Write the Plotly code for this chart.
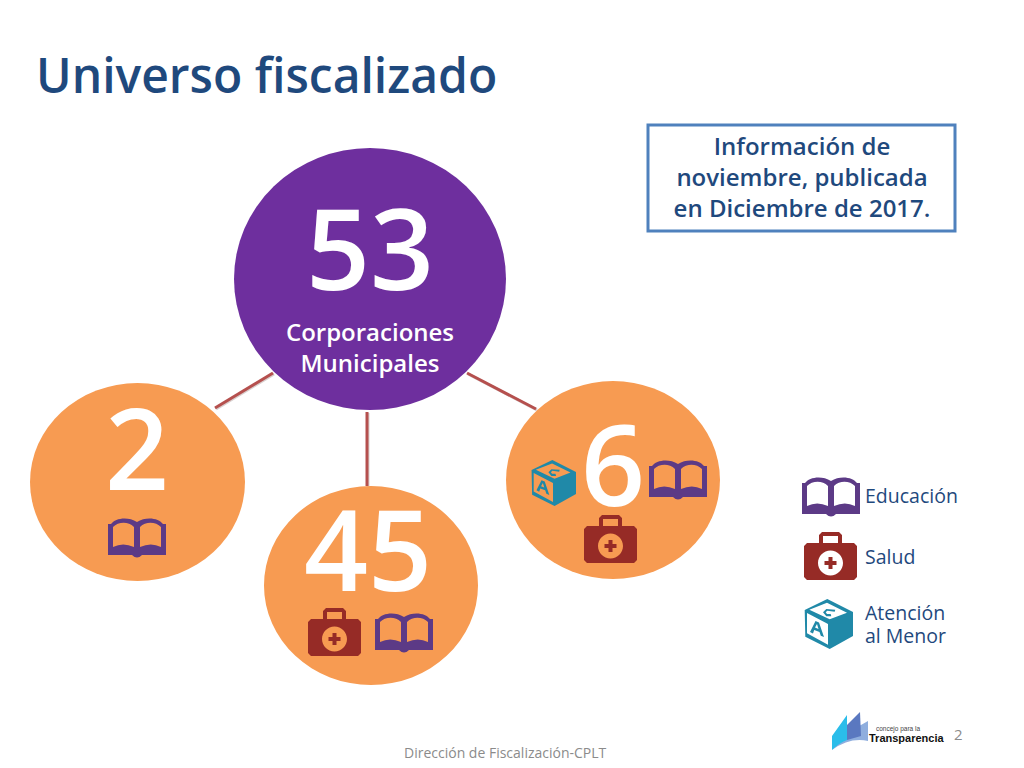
import plotly.graph_objects as go

NAVY = "#1F497D"
ORANGE = "#F79B52"
PURPLE = "#6E2F9E"
BOOK = "#5C3A86"
KIT = "#962B26"
CUBE = "#2089A8"
FONT = "Open Sans"

# Bubbles: centre x, centre y, radius x, radius y
bubble_cx = [370, 137.5, 371, 613]
bubble_cy = [279, 482, 585.5, 480]
bubble_rx = [136, 107.5, 107, 107]
bubble_ry = [131, 99, 99.5, 99]
bubble_col = [PURPLE, ORANGE, ORANGE, ORANGE]

# Connector lines from the centre bubble
link_x0 = [273, 367, 467]
link_y0 = [373, 412, 373]
link_x1 = [215, 367, 536]
link_y1 = [408, 486, 409]

# Big numbers
num_labels = ["53", "2", "45", "6"]
num_x = [370, 137, 368, 613]
num_y = [262, 462, 563, 478]
num_size = [112, 112, 112, 112]

# Icon placement: left, top, scale
book_pos = [(802, 477, 1.0), (108, 518, 1.0), (375, 613, 1.0), (649, 460, 1.0)]
kit_pos = [(804, 532, 1.0), (308, 608, 1.0), (584, 515, 1.0)]
cube_pos = [(803, 599, 1.0), (530, 460, 0.92)]

# Other text
legend_labels = ["Educación", "Salud", "Atención", "al Menor"]
legend_y = [498, 559, 615, 638]
note_lines = ["Información de", "noviembre, publicada", "en Diciembre de 2017."]
note_y = [149, 180, 211]
sub_lines = ["Corporaciones", "Municipales"]
sub_y = [335, 366]


def poly(pts, x, y, s):
    out = ""
    for i, (px, py) in enumerate(pts):
        out += ("M" if i == 0 else "L") + f"{x + px * s:.2f},{y + py * s:.2f} "
    return out + "Z "


def circle(cx, cy, r):
    k = r * 0.5523
    return (f"M{cx - r:.2f},{cy:.2f} C{cx - r:.2f},{cy - k:.2f} {cx - k:.2f},{cy - r:.2f} {cx:.2f},{cy - r:.2f} "
            f"C{cx + k:.2f},{cy - r:.2f} {cx + r:.2f},{cy - k:.2f} {cx + r:.2f},{cy:.2f} "
            f"C{cx + r:.2f},{cy + k:.2f} {cx + k:.2f},{cy + r:.2f} {cx:.2f},{cy + r:.2f} "
            f"C{cx - k:.2f},{cy + r:.2f} {cx - r:.2f},{cy + k:.2f} {cx - r:.2f},{cy:.2f} Z ")


def icon_shape(path, color):
    return dict(type="path", path=path, fillcolor=color, line=dict(width=0), layer="above",
                xref="x", yref="y", fillrule="evenodd")


def book_path(x, y, s):
    def p(a, b):
        return f"{x + a * s:.2f},{y + b * s:.2f}"
    outer = (f"M{p(0, 6)} L{p(3, 6)} C{p(7, 0)} {p(20, -2)} {p(29, 4)} C{p(38, -2)} {p(51, 0)} {p(55, 6)} L{p(58, 6)} "
             f"L{p(58, 37)} L{p(34, 37)} Q{p(29, 42)} {p(24, 37)} L{p(0, 37)} Z ")
    left = f"M{p(5, 9)} C{p(10, 4)} {p(20, 3)} {p(26, 9)} L{p(26, 29)} Q{p(15, 24)} {p(5, 29)} Z "
    right = f"M{p(32, 9)} C{p(38, 3)} {p(48, 4)} {p(53, 9)} L{p(53, 29)} Q{p(43, 24)} {p(32, 29)} Z "
    return outer + left + right


def kit_path(x, y, s):
    handle = poly([(15, 11), (15, 3), (18, 0), (35, 0), (38, 3), (38, 11), (34, 11), (34, 4), (19, 4), (19, 11)], x, y, s)
    body = poly([(3, 11), (50, 11), (53, 14), (53, 45), (50, 48), (3, 48), (0, 45), (0, 14)], x, y, s)
    hole = circle(x + 26.5 * s, y + 31 * s, 12.5 * s)
    plus = poly([(24.5, 25), (28.5, 25), (28.5, 29), (32.5, 29), (32.5, 33), (28.5, 33), (28.5, 37), (24.5, 37),
                 (24.5, 33), (20.5, 33), (20.5, 29), (24.5, 29)], x, y, s)
    return handle + body + hole + plus


def cube_path(x, y, s):
    outer = poly([(24.3, 0), (50, 13), (50, 37), (26.7, 50), (2.3, 37.7), (1.7, 11)], x, y, s)
    top = poly([(6.3, 10.7), (24, 3.7), (44, 13.7), (26.7, 20.3)], x, y, s)
    face = poly([(4, 14), (25, 25), (25, 45.7), (4, 34.3)], x, y, s)
    letter_a = poly([(12.5, 22), (16, 23.5), (21, 38), (17.8, 36.8), (16.5, 33), (11.2, 31), (10, 34.5), (7, 33)], x, y, s)
    a_hole = poly([(12, 28.5), (15.5, 30), (14, 25)], x, y, s)
    letter_c = poly([(32.3, 10.7), (23.3, 10), (20, 13.3), (23.3, 17.3), (28.3, 17.3), (27.7, 15), (24, 15),
                     (22.7, 13.3), (24.3, 11.7), (31.7, 12.7)], x, y, s)
    return outer + top + face + letter_a + a_hole + letter_c


shapes = []
for x0, y0, x1, y1 in zip(link_x0, link_y0, link_x1, link_y1):
    shapes.append(dict(type="line", x0=x0 + 1, y0=y0 + 1, x1=x1 + 1, y1=y1 + 1, xref="x", yref="y",
                       line=dict(color="#D9D0CF", width=3), layer="below"))
    shapes.append(dict(type="line", x0=x0, y0=y0, x1=x1, y1=y1, xref="x", yref="y",
                       line=dict(color="#B5504E", width=3), layer="below"))
for cx, cy, rx, ry, col in zip(bubble_cx, bubble_cy, bubble_rx, bubble_ry, bubble_col):
    shapes.append(dict(type="circle", x0=cx - rx, x1=cx + rx, y0=cy - ry, y1=cy + ry, xref="x", yref="y",
                       fillcolor=col, line=dict(width=0), layer="below"))

for x, y, s in book_pos:
    shapes.append(icon_shape(book_path(x, y, s), BOOK))
for x, y, s in kit_pos:
    shapes.append(icon_shape(kit_path(x, y, s), KIT))
for x, y, s in cube_pos:
    shapes.append(icon_shape(cube_path(x, y, s), CUBE))

# Note box
shapes.append(dict(type="rect", x0=648, x1=955, y0=125, y1=231, xref="x", yref="y",
                   fillcolor="white", line=dict(color="#4F81BD", width=3), layer="below"))

# Logo
shapes.append(icon_shape("M861,725 L868,721 L868,741 Q850,737 832,750 L847,730 Z", "#8FAEDE"))
shapes.append(icon_shape("M847,725 L860,712 L861,736 L847,740 Z", "#5A78C0"))
shapes.append(icon_shape("M832,736 L847,715 L847,740 Q839,743 832,750 Z", "#2BBDEA"))

fig = go.Figure()
fig.add_trace(go.Scatter(
    x=num_x, y=num_y, text=num_labels, mode="text", hoverinfo="skip", cliponaxis=False,
    textposition="middle center",
    textfont=dict(family=FONT, size=num_size, color="white", weight=600),
))
fig.add_trace(go.Scatter(
    x=[370, 370], y=sub_y, text=sub_lines, mode="text", hoverinfo="skip",
    textposition="middle center",
    textfont=dict(family=FONT, size=24, color="white", weight=600),
))
fig.add_trace(go.Scatter(
    x=[802, 802, 802], y=note_y, text=note_lines, mode="text", hoverinfo="skip",
    textposition="middle center",
    textfont=dict(family=FONT, size=24, color=NAVY, weight=600),
))
fig.add_trace(go.Scatter(
    x=[865] * 4, y=legend_y, text=legend_labels, mode="text", hoverinfo="skip",
    textposition="middle right",
    textfont=dict(family=FONT, size=19.5, color=NAVY),
))

annotations = [
    dict(x=34, y=74, text="Universo fiscalizado", xanchor="left", yanchor="middle", showarrow=False,
         font=dict(family=FONT, size=48, color=NAVY, weight=600)),
    dict(x=505, y=752, text="Dirección de Fiscalización-CPLT", xanchor="center", yanchor="middle", showarrow=False,
         font=dict(family=FONT, size=14, color="#8B8B8B")),
    dict(x=958, y=734, text="2", xanchor="center", yanchor="middle", showarrow=False,
         font=dict(family=FONT, size=15, color="#8B8B8B")),
    dict(x=874, y=729, text="concejo para la", xanchor="left", yanchor="middle", showarrow=False,
         font=dict(family="Liberation Sans, sans-serif", size=6.5, color="#444444")),
    dict(x=867, y=738, text="Transparencia", xanchor="left", yanchor="middle", showarrow=False,
         font=dict(family="Liberation Sans, sans-serif", size=11, color="#111111", weight=700)),
]

# the page body has an 8px margin, so the axes start at 8 to stay in window pixels
fig.update_layout(
    width=1016, height=760, margin=dict(l=0, r=0, t=0, b=0),
    paper_bgcolor="white", plot_bgcolor="white", showlegend=False,
    xaxis=dict(range=[8, 1024], visible=False, fixedrange=True),
    yaxis=dict(range=[768, 8], visible=False, fixedrange=True),
    shapes=shapes, annotations=annotations,
)

fig.write_html("out.html")
